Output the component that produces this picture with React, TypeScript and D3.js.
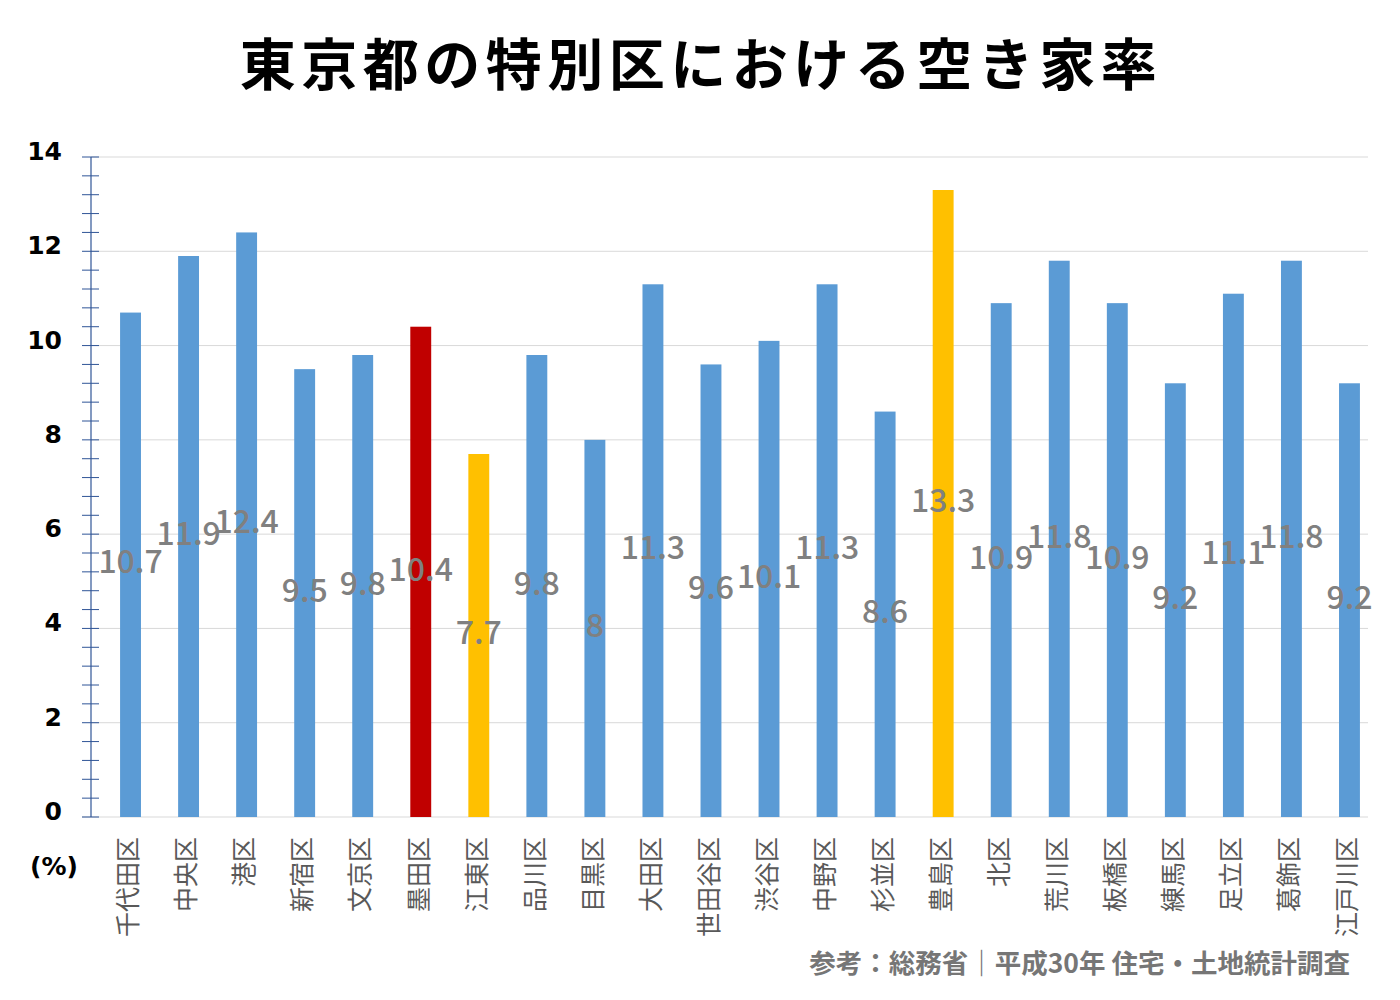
import React from "react";
import * as d3 from "d3";

const wards = ["千代田区","中央区","港区","新宿区","文京区","墨田区","江東区","品川区","目黒区","大田区","世田谷区","渋谷区","中野区","杉並区","豊島区","北区","荒川区","板橋区","練馬区","足立区","葛飾区","江戸川区"];
const vacancyRates = [10.7,11.9,12.4,9.5,9.8,10.4,7.7,9.8,8,11.3,9.6,10.1,11.3,8.6,13.3,10.9,11.8,10.9,9.2,11.1,11.8,9.2];
const highlightRed = ["墨田区"];
const highlightYellow = ["江東区","豊島区"];
const yTicks = [0,2,4,6,8,10,12,14];
const title = "東京都の特別区における空き家率";
const source = "参考：総務省｜平成30年 住宅・土地統計調査";
const unitLabel = "(%)";

const W = 1400, H = 1000;
const axisX = 91, plotRight = 1368;
const y0 = 817, yTop = 157;

export default function App() {
  const x = d3.scaleBand<string>().domain(wards).range([101.5, 1378.5]).paddingInner(0.64).paddingOuter(0.32);
  const y = d3.scaleLinear().domain([0, 14]).range([y0, yTop]);
  const minor = d3.range(0, 14.0001, 0.4);
  const jp = "'Noto Sans CJK JP', 'Noto Sans', sans-serif";
  const color = (w: string) => highlightRed.includes(w) ? "#c00000" : highlightYellow.includes(w) ? "#ffc000" : "#5b9bd5";
  return (
    <svg width={W} height={H} style={{ position: "absolute", left: 0, top: 0, background: "#fff" }}>
      <rect width={W} height={H} fill="#fff" />
      <text x={701} y={85} textAnchor="middle" fontFamily={jp} fontWeight={700} fontSize={56} letterSpacing={5.5} fill="#000">{title}</text>
      {yTicks.map(t => (
        <g key={t}>
          <line x1={t === 0 ? 82 : axisX} x2={plotRight} y1={y(t)} y2={y(t)} stroke="#d9d9d9" strokeWidth={1} />
          <text x={62} y={y(t) - 4} textAnchor="end" dominantBaseline="middle" fontFamily="'DejaVu Sans', Verdana, sans-serif" fontWeight={700} fontSize={25} fill="#000">{t}</text>
        </g>
      ))}
      {minor.map((m, i) => (
        <line key={i} x1={82} x2={99} y1={y(m)} y2={y(m)} stroke="#2f5597" strokeWidth={1} />
      ))}
      <line x1={axisX} x2={axisX} y1={yTop} y2={y0} stroke="#2f5597" strokeWidth={1.2} />
      {wards.map((w, i) => (
        <rect key={w} x={x(w)!} width={x.bandwidth()} y={y(vacancyRates[i])} height={y0 - y(vacancyRates[i])} fill={color(w)} />
      ))}
      {wards.map((w, i) => (
        <text key={w} x={x(w)! + x.bandwidth() / 2} y={y(vacancyRates[i] / 2)} textAnchor="middle" dominantBaseline="middle" fontFamily={jp} fontWeight={500} fontSize={32} fill="#808080">{vacancyRates[i]}</text>
      ))}
      {wards.map(w => {
        const cx = x(w)! + x.bandwidth() / 2;
        return (
          <text key={w} transform={`translate(${cx},${837}) rotate(-90)`} textAnchor="end" dominantBaseline="middle" fontFamily={jp} fontWeight={400} fontSize={25} fill="#595959">{w}</text>
        );
      })}
      <text x={54} y={868} textAnchor="middle" dominantBaseline="middle" fontFamily="'DejaVu Sans', Verdana, sans-serif" fontWeight={700} fontSize={25} fill="#000">{unitLabel}</text>
      <text x={1350} y={973} textAnchor="end" fontFamily={jp} fontWeight={700} fontSize={26.5} fill="#767676">{source}</text>
    </svg>
  );
}
